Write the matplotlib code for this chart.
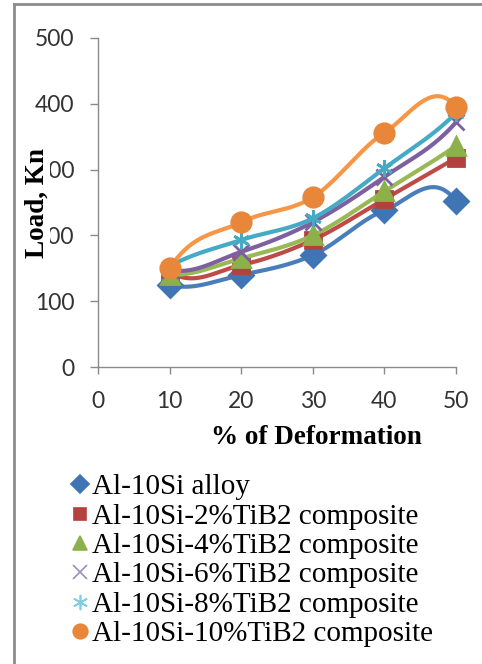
import numpy as np
import matplotlib
matplotlib.use("Agg")
import matplotlib.pyplot as plt
from matplotlib.lines import Line2D

# Deformation levels (%) and measured load (kN) for each material
deformation = [10, 20, 30, 40, 50]
series_labels = [
    "Al-10Si alloy",
    "Al-10Si-2%TiB2 composite",
    "Al-10Si-4%TiB2 composite",
    "Al-10Si-6%TiB2 composite",
    "Al-10Si-8%TiB2 composite",
    "Al-10Si-10%TiB2 composite",
]
load_alloy = [125, 140, 170, 238, 252]
load_tib2_2 = [145, 155, 193, 255, 318]
load_tib2_4 = [140, 165, 200, 267, 336]
load_tib2_6 = [148, 175, 220, 289, 372]
load_tib2_8 = [153, 193, 226, 302, 386]
load_tib2_10 = [150, 220, 258, 356, 395]

x_ticks = [0, 10, 20, 30, 40, 50]
y_ticks = [0, 100, 200, 300, 400, 500]

series = [load_alloy, load_tib2_2, load_tib2_4, load_tib2_6, load_tib2_8, load_tib2_10]
colors = ["#4A7EBB", "#BE4B48", "#98B954", "#7D60A0", "#46AAC5", "#F79646"]
marker_colors = ["#3F74B5", "#B5413E", "#8CB04A", "#7D60A0", "#46AAC5", "#E8873A"]
markers = ["D", "s", "^", "x", (6, 2, 0), "o"]
msizes = [12, 12, 13, 11, 12, 14]


def smooth_curve(x, y, k=6.0, n=40):
    """Piecewise cubic Hermite curve with spreadsheet-style end behaviour."""
    x = np.asarray(x, float)
    y = np.asarray(y, float)
    npts = len(x)
    chords = np.diff(y)
    m = np.zeros(npts)
    m[1:-1] = (y[2:] - y[:-2]) / 2.0
    m[0] = chords[0] + k * (chords[0] - m[1])
    m[-1] = chords[-1] + k * (chords[-1] - m[-2])
    xs, ys = [], []
    for i in range(npts - 1):
        t = np.linspace(0, 1, n)
        h00 = 2 * t**3 - 3 * t**2 + 1
        h10 = t**3 - 2 * t**2 + t
        h01 = -2 * t**3 + 3 * t**2
        h11 = t**3 - t**2
        xs.append(x[i] + t * (x[i + 1] - x[i]))
        ys.append(h00 * y[i] + h10 * m[i] + h01 * y[i + 1] + h11 * m[i + 1])
    return np.concatenate(xs), np.concatenate(ys)


W, H = 482, 664
fig = plt.figure(figsize=(W / 100, H / 100), dpi=100)
fig.patch.set_facecolor("white")

ax = fig.add_axes([98 / W, 1 - 367 / H, (456 - 98) / W, (367 - 38) / H])
ax.set_xlim(0, 50)
ax.set_ylim(0, 500)
ax.set_xticks(x_ticks)
ax.set_yticks(y_ticks)

for vals, c, mc, mk, ms in zip(series, colors, marker_colors, markers, msizes):
    sx, sy = smooth_curve(deformation, vals)
    ax.plot(sx, sy, color=c, lw=3.0, solid_capstyle="round", clip_on=False)
    ax.plot(deformation, vals, linestyle="none", marker=mk, markersize=ms,
            color=mc, markeredgecolor=mc, markeredgewidth=2.0, clip_on=False)

axis_gray = "#8A8A8A"
for side in ["top", "right"]:
    ax.spines[side].set_visible(False)
for side in ["left", "bottom"]:
    ax.spines[side].set_color(axis_gray)
    ax.spines[side].set_linewidth(1.0)
ax.tick_params(axis="both", colors=axis_gray, labelcolor="#333333",
               labelsize=16.5, width=1.0)
ax.tick_params(axis="x", length=5, pad=12)
ax.tick_params(axis="y", length=6, pad=11)
for lbl in ax.get_xticklabels() + ax.get_yticklabels():
    lbl.set_fontfamily("Lato")

# Axis titles
fig.text(316 / W, 1 - 437 / H, "% of Deformation", ha="center", va="center",
         family="Liberation Serif", fontweight="bold", fontsize=19.5, color="black")
fig.text(37 / W, 1 - 203 / H, "Load, Kn", ha="center", va="center", rotation=90,
         family="Liberation Serif", fontweight="bold", fontsize=19.5, color="black",
         bbox=dict(facecolor="white", edgecolor="none", pad=0.0))

# Legend (markers only)
handles = [Line2D([], [], linestyle="none", marker=mk, markersize=ms * 0.75,
                  color=mc, markeredgecolor=mc, markeredgewidth=1.2)
           for mc, mk, ms in zip(marker_colors, markers, msizes)]
handles[3] = Line2D([], [], linestyle="none", marker="x", markersize=10,
                    color="#A08CC0", markeredgewidth=1.2)
handles[4] = Line2D([], [], linestyle="none", marker=(6, 2, 0), markersize=11,
                    color="#7FCCE0", markeredgewidth=1.2)
fig.legend(handles, series_labels, loc="upper left",
           bbox_to_anchor=(72 / W, 1 - 474 / H), frameon=False,
           prop={"family": "Liberation Serif", "size": 21},
           handlelength=0.55, handletextpad=0.15, labelspacing=0.1,
           borderpad=0, borderaxespad=0)

# Outer frame (left and top edges)
frame_gray = "#8C8C8C"
fig.add_artist(Line2D([14 / W, 14 / W], [0, 1 - 4 / H], color=frame_gray, lw=2.0,
                      transform=fig.transFigure))
fig.add_artist(Line2D([14 / W, 1.0], [1 - 4 / H, 1 - 4 / H], color=frame_gray, lw=2.0,
                      transform=fig.transFigure))

fig.savefig("out.png", dpi=100)
